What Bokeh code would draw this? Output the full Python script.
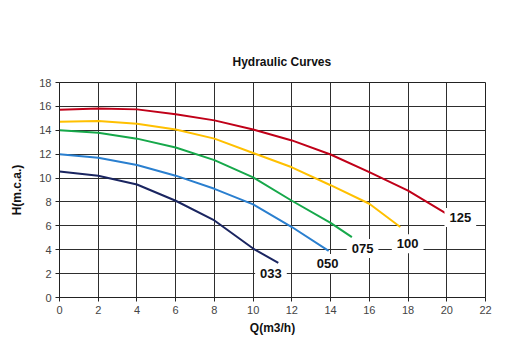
from bokeh.plotting import figure
from bokeh.models import Label, Range1d, FixedTicker, Title
from bokeh.embed import file_html
from bokeh.resources import INLINE

# data
q_125 = [0, 2, 4, 6, 8, 10, 12, 14, 16, 18, 20]
h_125 = [15.72, 15.83, 15.75, 15.35, 14.83, 14.06, 13.15, 11.97, 10.5, 8.95, 7.0]
q_100 = [0, 2, 4, 6, 8, 10, 12, 14, 16, 17.6]
h_100 = [14.72, 14.78, 14.55, 14.06, 13.3, 12.1, 10.9, 9.4, 7.85, 5.9]
q_075 = [0, 2, 4, 6, 8, 10, 12, 14, 15.1]
h_075 = [14.0, 13.8, 13.3, 12.56, 11.5, 10.05, 8.1, 6.25, 5.05]
q_050 = [0, 2, 4, 6, 8, 10, 12, 13.9]
h_050 = [12.0, 11.7, 11.1, 10.2, 9.1, 7.8, 5.9, 3.9]
q_033 = [0, 2, 4, 6, 8, 10, 11.3]
h_033 = [10.55, 10.2, 9.46, 8.1, 6.45, 4.1, 2.9]

series_names = ["125", "100", "075", "050", "033"]
series_colors = ["#c00018", "#ffc000", "#16a84a", "#2a7fcf", "#1a2560"]
label_x = [20.7, 17.98, 15.65, 13.85, 10.92]
label_y = [6.7, 4.5, 4.1, 2.85, 2.0]

title_text = "Hydraulic Curves"

x_ticks = list(range(0, 23, 2))
y_ticks = list(range(0, 19, 2))

p = figure(width=501, height=353, output_backend="svg", toolbar_location=None,
           x_range=Range1d(0, 22), y_range=Range1d(0, 18),
           min_border_left=59, min_border_right=16, min_border_top=82, min_border_bottom=56)
p.frame_width = 426
p.frame_height = 215
p.background_fill_color = "white"
p.border_fill_color = "white"
p.outline_line_color = "#222222"
p.outline_line_width = 1

p.title = Title(text=title_text, align="left", offset=173, standoff=27,
                text_font="Liberation Sans", text_font_size="12px",
                text_font_style="bold", text_color="#111111")

for ax in (p.xaxis[0], p.yaxis[0]):
    ax.major_label_text_font = "Liberation Sans"
    ax.major_label_text_font_size = "11px"
    ax.major_label_text_color = "#444444"
    ax.axis_label_text_font = "Liberation Sans"
    ax.axis_label_text_font_size = "12px"
    ax.axis_label_text_font_style = "bold"
    ax.axis_label_text_color = "#111111"
    ax.axis_line_color = "#222222"
    ax.major_tick_line_color = "#222222"
    ax.major_tick_out = 4
    ax.major_tick_in = 0
    ax.minor_tick_line_color = None

p.xaxis.ticker = FixedTicker(ticks=x_ticks)
p.yaxis.ticker = FixedTicker(ticks=y_ticks)
p.xaxis.axis_label = "Q(m3/h)"
p.yaxis.axis_label = "H(m.c.a.)"
p.xaxis.axis_label_standoff = 4
p.yaxis.axis_label_standoff = 12
p.xaxis.major_label_standoff = 4
p.yaxis.major_label_standoff = 4

p.grid.grid_line_color = "#2e2e2e"
p.grid.grid_line_alpha = 1.0
p.grid.grid_line_width = 1

qs = [q_125, q_100, q_075, q_050, q_033]
hs = [h_125, h_100, h_075, h_050, h_033]
for q, h, c in zip(qs, hs, series_colors):
    p.line(q, h, line_color=c, line_width=2)

for name, lx, ly in zip(series_names, label_x, label_y):
    p.add_layout(Label(x=lx, y=ly, text=name, text_align="center", text_baseline="middle",
                       text_font="Liberation Sans", text_font_size="13px", text_font_style="bold",
                       text_color="#111111", background_fill_color="white",
                       padding=5))

open("out.html", "w").write(file_html(p, INLINE))
